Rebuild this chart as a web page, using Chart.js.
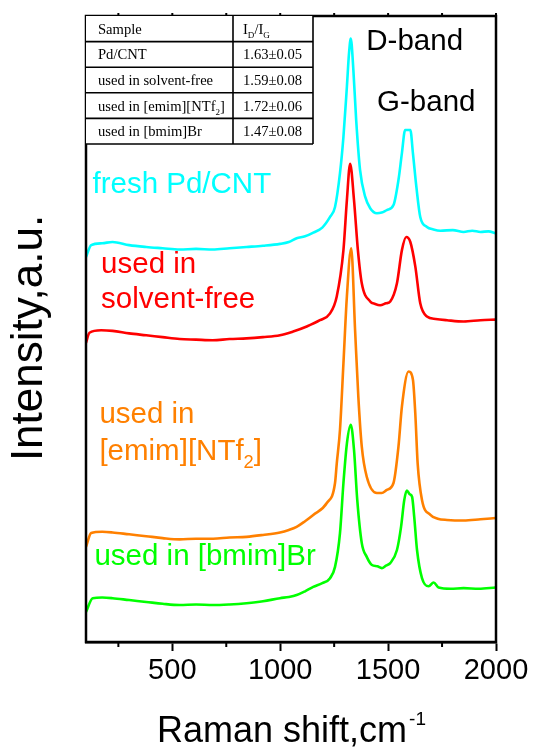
<!DOCTYPE html>
<html>
<head>
<meta charset="utf-8">
<script src="https://cdn.jsdelivr.net/npm/chart.js@4/dist/chart.umd.min.js"></script>
<style>
  html, body { margin: 0; padding: 0; background: #fff; }
  #wrap { width: 533px; height: 747px; }
</style>
</head>
<body>
<div id="wrap"><canvas id="ramanChart"></canvas></div>
<script>
// Raman shift (cm-1) and intensity (a.u., stacked with offsets) for each sample
const freshShift = [100, 124, 175, 223, 300, 379, 455, 534, 610, 687, 765, 844, 920, 999, 1040, 1076, 1115, 1153, 1195, 1231, 1254, 1277, 1293, 1309, 1319, 1327, 1339, 1352, 1370, 1394, 1417, 1448, 1470, 1494, 1525, 1548, 1564, 1579, 1603, 1615, 1631, 1649, 1680, 1710, 1742, 1800, 1850, 1890, 1928, 1965, 1998];
const freshIntensity = [61.5, 63.4, 63.7, 63.9, 63.4, 63.1, 62.9, 62.7, 62.8, 62.7, 62.9, 63.1, 63.3, 63.6, 63.9, 64.5, 64.8, 65.4, 66.2, 67.9, 69.5, 74.9, 80.7, 88.7, 94.1, 96.4, 91.4, 83.4, 75.4, 71.1, 69.3, 68.5, 68.6, 69.0, 69.8, 73.8, 78.1, 81.8, 81.8, 78.1, 72.7, 67.9, 66.3, 65.9, 65.7, 65.8, 65.5, 65.7, 65.5, 65.6, 65.3];

const solventFreeShift = [100, 116, 170, 223, 300, 379, 455, 534, 610, 687, 765, 844, 920, 999, 1060, 1123, 1184, 1231, 1262, 1293, 1309, 1324, 1342, 1360, 1378, 1417, 1440, 1463, 1490, 1510, 1541, 1564, 1584, 1603, 1626, 1649, 1680, 1720, 1773, 1850, 1928, 1998];
const solventFreeIntensity = [47.8, 49.4, 49.8, 49.7, 49.3, 49.0, 48.7, 48.4, 48.3, 48.2, 48.4, 48.5, 48.7, 49.0, 49.6, 50.4, 51.4, 52.5, 55.2, 62.6, 70.6, 76.4, 70.6, 62.6, 57.3, 54.4, 54.0, 53.8, 54.1, 54.4, 57.3, 62.6, 64.7, 63.9, 60.0, 54.1, 52.0, 51.6, 51.4, 51.2, 51.4, 51.5];

const emimShift = [100, 124, 175, 223, 300, 379, 455, 534, 610, 689, 765, 844, 920, 999, 1040, 1076, 1115, 1153, 1216, 1254, 1262, 1277, 1293, 1309, 1329, 1347, 1362, 1378, 1401, 1448, 1470, 1494, 1525, 1548, 1564, 1595, 1615, 1626, 1637, 1657, 1696, 1730, 1773, 1850, 1928, 1998];
const emimIntensity = [15.2, 17.4, 17.6, 17.5, 17.2, 16.9, 16.6, 16.4, 16.5, 16.5, 16.7, 16.8, 17.1, 17.5, 17.9, 18.4, 19.3, 20.3, 22.2, 25.4, 28.5, 33.9, 44.5, 55.2, 62.9, 49.8, 39.2, 31.2, 26.4, 23.8, 23.8, 24.3, 25.4, 31.2, 37.6, 43.2, 41.9, 36.5, 28.5, 22.7, 20.3, 19.7, 19.5, 19.4, 19.6, 19.8];

const bmimShift = [100, 131, 175, 223, 300, 379, 455, 534, 610, 689, 765, 844, 920, 999, 1040, 1076, 1115, 1153, 1195, 1231, 1254, 1277, 1293, 1309, 1327, 1342, 1357, 1378, 1401, 1425, 1450, 1471, 1490, 1510, 1541, 1560, 1575, 1587, 1600, 1611, 1621, 1634, 1657, 1688, 1711, 1734, 1790, 1850, 1920, 1998];
const bmimIntensity = [4.8, 7.0, 7.1, 7.0, 6.7, 6.4, 6.1, 5.9, 6.0, 5.9, 6.0, 6.2, 6.5, 7.0, 7.2, 7.5, 8.1, 8.8, 9.4, 10.2, 12.0, 17.4, 25.4, 31.7, 34.7, 30.7, 22.7, 15.8, 13.6, 12.3, 12.1, 11.8, 12.2, 12.6, 14.7, 18.4, 22.7, 24.2, 23.6, 23.2, 20.0, 14.7, 10.2, 8.9, 9.5, 8.7, 8.5, 8.6, 8.5, 8.7];

const majorTicks = [500, 1000, 1500, 2000];
const minorTicks = [250, 750, 1250, 1750];

// inset table: sample name and I_D/I_G ratio
const tableSamples = ['Pd/CNT', 'used in solvent-free', 'used in [emim][NTf2]', 'used in [bmim]Br'];
const tableRatios = ['1.63\u00b10.05', '1.59\u00b10.08', '1.72\u00b10.06', '1.47\u00b10.08'];

const SANS = '"Liberation Sans", Arial, sans-serif';
const SERIF = '"Liberation Serif", "Times New Roman", serif';

function toPoints(xs, ys) {
  return xs.map((x, i) => ({ x: x, y: ys[i] }));
}

function series(label, xs, ys, color) {
  return {
    label: label,
    data: toPoints(xs, ys),
    borderColor: color,
    borderWidth: 2.6,
    pointRadius: 0,
    fill: false,
    cubicInterpolationMode: 'monotone'
  };
}

// text drawn on the plot, placed in data coordinates
const curveLabels = [
  { parts: [['fresh Pd/CNT']], x: 130, y: 71.7, color: '#00ffff' },
  { parts: [['used in']], x: 170, y: 58.9, color: '#ff0000' },
  { parts: [['solvent-free']], x: 170, y: 53.4, color: '#ff0000' },
  { parts: [['used in']], x: 162, y: 35.0, color: '#ff8000' },
  { parts: [['[emim][NTf'], ['2', 'sub'], [']']], x: 162, y: 29.1, color: '#ff8000' },
  { parts: [['used in [bmim]Br']], x: 139, y: 12.3, color: '#00ff00' },
  { parts: [['D-band']], x: 1399, y: 94.6, color: '#000' },
  { parts: [['G-band']], x: 1449, y: 84.8, color: '#000' }
];

// draws a run of text pieces, some of them as subscripts
function drawRich(ctx, parts, x, y, size, family) {
  let cx = x;
  parts.forEach(p => {
    const sub = p[1] === 'sub';
    const fs = sub ? size * 0.62 : size;
    ctx.font = fs + 'px ' + family;
    ctx.fillText(p[0], cx, sub ? y + size * 0.28 : y);
    cx += ctx.measureText(p[0]).width;
  });
  return cx;
}

function splitSub(text) {
  // "NTf2" -> subscript 2
  const m = text.match(/^(.*NTf)(2)(\])$/);
  if (m) return [[m[1]], [m[2], 'sub'], [m[3]]];
  return [[text]];
}

const decorPlugin = {
  id: 'decor',
  afterDraw(chart) {
    const { ctx, chartArea: a, scales } = chart;
    const xs = scales.x, ys = scales.y;
    ctx.save();

    // frame
    ctx.strokeStyle = '#000';
    ctx.lineWidth = 2.5;
    ctx.strokeRect(a.left, a.top, a.right - a.left, a.bottom - a.top);

    // minor ticks at the bottom, small ticks along the top
    ctx.lineWidth = 2;
    minorTicks.forEach(v => {
      const px = xs.getPixelForValue(v);
      ctx.beginPath();
      ctx.moveTo(px, a.bottom);
      ctx.lineTo(px, a.bottom + 5);
      ctx.stroke();
    });
    minorTicks.concat(majorTicks).forEach(v => {
      const px = xs.getPixelForValue(v);
      ctx.beginPath();
      ctx.moveTo(px, a.top);
      ctx.lineTo(px, a.top - 3);
      ctx.stroke();
    });

    // curve labels
    ctx.textBaseline = 'alphabetic';
    ctx.textAlign = 'left';
    curveLabels.forEach(l => {
      ctx.fillStyle = l.color;
      drawRich(ctx, l.parts, xs.getPixelForValue(l.x), ys.getPixelForValue(l.y), 29.5, SANS);
    });

    // inset table
    const tl = a.left, tt = a.top;
    const colX = [tl, tl + 147, tl + 227];
    const rowH = 25.6;
    const nRows = tableSamples.length + 1;
    ctx.fillStyle = '#fff';
    ctx.fillRect(tl, tt, colX[2] - tl, rowH * nRows);
    ctx.strokeStyle = '#000';
    ctx.lineWidth = 1.6;
    for (let r = 1; r <= nRows; r++) {
      ctx.beginPath();
      ctx.moveTo(tl, tt + r * rowH);
      ctx.lineTo(colX[2], tt + r * rowH);
      ctx.stroke();
    }
    [colX[1], colX[2]].forEach(cx => {
      ctx.beginPath();
      ctx.moveTo(cx, tt);
      ctx.lineTo(cx, tt + nRows * rowH);
      ctx.stroke();
    });
    ctx.fillStyle = '#000';
    const fs = 14.6;
    const rowText = (r) => tt + r * rowH + rowH / 2 + 5;
    ctx.font = fs + 'px ' + SERIF;
    ctx.fillText('Sample', colX[0] + 12, rowText(0));
    drawRich(ctx, [['I'], ['D', 'sub'], ['/I'], ['G', 'sub']], colX[1] + 10, rowText(0), fs, SERIF);
    tableSamples.forEach((s, i) => {
      drawRich(ctx, splitSub(s), colX[0] + 12, rowText(i + 1), fs, SERIF);
      ctx.font = fs + 'px ' + SERIF;
      ctx.fillText(tableRatios[i], colX[1] + 10, rowText(i + 1));
    });

    // axis titles
    ctx.fillStyle = '#000';
    const end = drawRich(ctx, [['Raman shift,cm']], 157, 742, 36, SANS);
    ctx.font = '19px ' + SANS;
    ctx.fillText('-1', end + 2, 725);

    ctx.translate(42, 338);
    ctx.rotate(-Math.PI / 2);
    ctx.textAlign = 'center';
    ctx.font = '44px ' + SANS;
    ctx.fillText('Intensity,a.u.', 0, 0);
    ctx.restore();
  }
};

const ramanChart = new Chart(document.getElementById('ramanChart').getContext('2d'), {
  type: 'line',
  data: {
    datasets: [
      series('fresh Pd/CNT', freshShift, freshIntensity, '#00ffff'),
      series('used in solvent-free', solventFreeShift, solventFreeIntensity, '#ff0000'),
      series('used in [emim][NTf2]', emimShift, emimIntensity, '#ff8000'),
      series('used in [bmim]Br', bmimShift, bmimIntensity, '#00ff00')
    ]
  },
  options: {
    responsive: true,
    maintainAspectRatio: false,
    animation: false,
    layout: { padding: { left: 86, top: 16, right: 37, bottom: 0 } },
    plugins: { legend: { display: false }, tooltip: { enabled: false } },
    scales: {
      x: {
        type: 'linear',
        min: 100,
        max: 2000,
        afterBuildTicks: (s) => { s.ticks = majorTicks.map(v => ({ value: v })); },
        afterFit: (s) => { s.height = 105; },
        grid: { display: true, drawOnChartArea: false, tickLength: 9, tickWidth: 2, color: '#000' },
        border: { display: true, color: '#000', width: 2.5 },
        ticks: {
          color: '#000',
          padding: 3,
          maxRotation: 0,
          callback: (v) => String(v),
          font: { family: SANS, size: 29 }
        }
      },
      y: {
        display: false,
        min: 0,
        max: 100
      }
    }
  },
  plugins: [decorPlugin]
});
</script>
</body>
</html>
